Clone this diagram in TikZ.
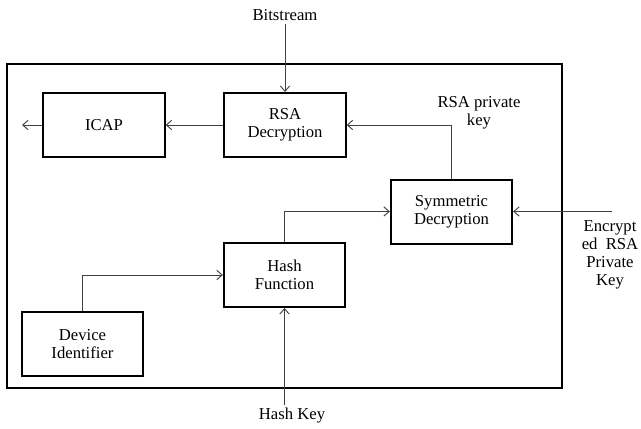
\documentclass[tikz,border=0pt]{standalone}
\usepackage{fontspec}
\setmainfont{Liberation Serif}
\usetikzlibrary{arrows.meta}
\begin{document}
\begin{tikzpicture}[x=0.75pt, y=-0.75pt, >={Straight Barb[length=4pt,width=7pt]},
    block/.style={draw, line width=1.5pt, minimum width=91pt, minimum height=48pt,
        align=center, font=\fontsize{12.5}{13.5}\selectfont},
    lbl/.style={align=center, inner sep=2pt, font=\fontsize{12.5}{13.5}\selectfont},
    wire/.style={->, black!75, line width=0.7pt}]
    \useasboundingbox (0,0) rectangle (641,428);

    \draw[line width=1.5pt] (7,64) rectangle (562,388);

    \node[block] (icap) at (104,125) {ICAP};
    \node[block] (rsa) at (285,125) {RSA\\Decryption};
    \node[block] (sym) at (451.5,211.5) {Symmetric\\Decryption};
    \node[block] (hash) at (284.5,275) {Hash\\Function};
    \node[block] (dev) at (82.5,344) {Device\\Identifier};

    \node[lbl] (bits) at (285,15) {Bitstream};
    \node[lbl] (hkey) at (292,416) {Hash Key};
    \node[lbl] (rsakey) at (479,113) {RSA private\\key};
    \node[lbl] (enclbl) at (610,255) {Encrypt\\ed\ \ RSA\\Private\\Key};

    \coordinate (out) at (22,125);
    \coordinate (enc) at (612,211.5);

    \draw[wire] (bits) -- (rsa);
    \draw[wire] (rsa) -- (icap);
    \draw[wire] (icap) -- (out);
    \draw[wire] (sym.north) |- (rsa.east);
    \draw[wire] (hash.north) |- (sym.west);
    \draw[wire] (dev.north) |- (hash.west);
    \draw[wire] (hkey.north -| hash.south) -- (hash.south);
    \draw[wire] (enc) -- (sym.east);
\end{tikzpicture}
\end{document}
